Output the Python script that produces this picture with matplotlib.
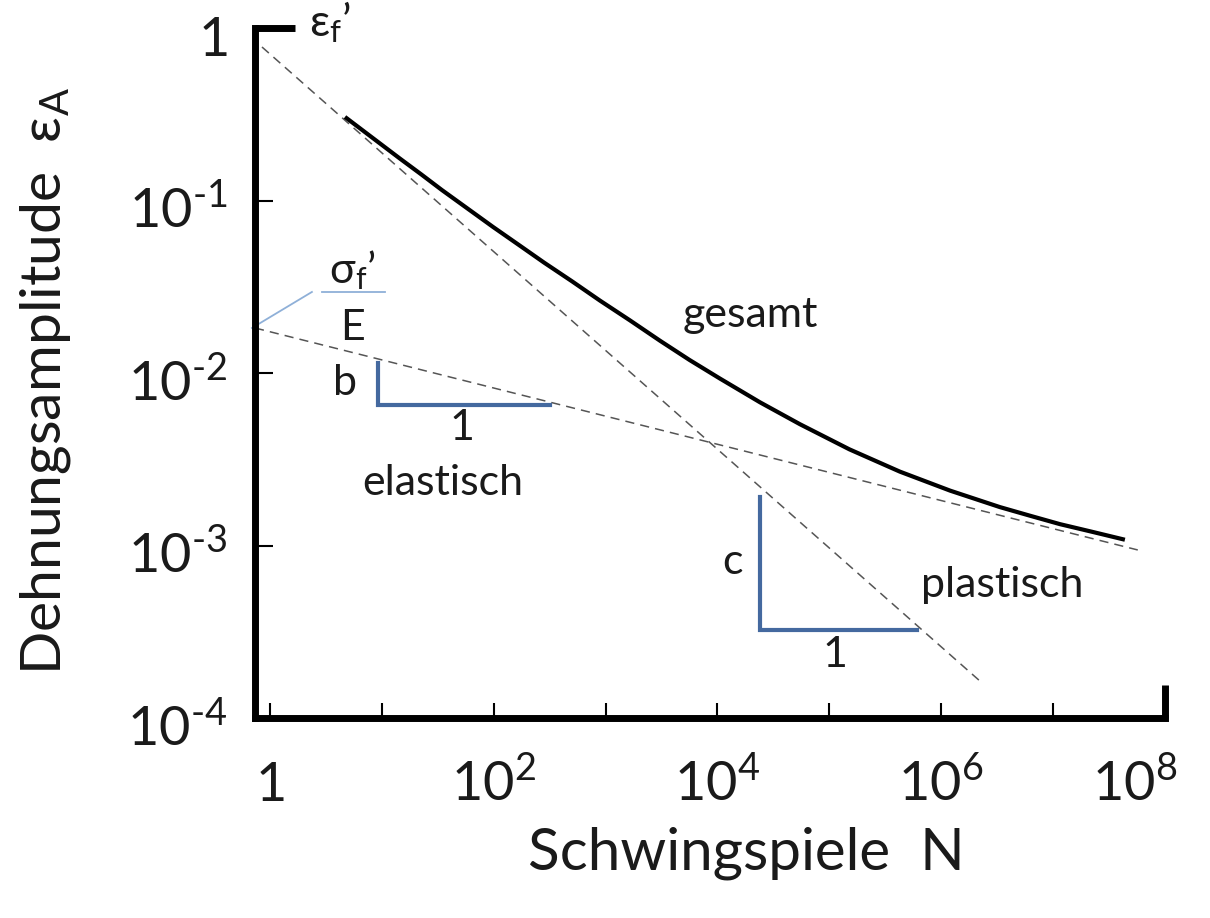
import matplotlib.pyplot as plt
import matplotlib.transforms as mtransforms
from matplotlib.ticker import NullLocator

# values (log-log diagram)
N_plastic = [0.848, 2.31e6]
eps_plastic = [0.776, 1.60e-4]

N_elastic = [0.734, 5.71e7]
eps_elastic = [0.01824, 9.42e-4]

N_total = [4.68, 8.24, 14.5, 22.4, 34.4, 58.2, 98.4, 166, 281, 501, 889, 1648, 3055,
           5623, 1.05e4, 2.40e4, 5.45e4, 1.51e5, 4.27e5, 1.20e6, 3.34e6, 6.17e6,
           1.15e7, 2.24e7, 4.38e7]
eps_total = [0.305, 0.231, 0.175, 0.142, 0.115, 0.0899, 0.0703, 0.0555, 0.0437, 0.0340,
             0.0263, 0.0202, 0.0154, 0.0119, 0.00929, 0.00676, 0.00505, 0.00361,
             0.00268, 0.00208, 0.00167, 0.00149, 0.00133, 0.00120, 0.00108]

# slope triangles
tri_b_N = [9.23, 9.23, 318]
tri_b_eps = [0.01143, 0.00652, 0.00652]
tri_c_N = [23900, 23900, 6.05e5]
tri_c_eps = [0.00191, 3.24e-4, 3.24e-4]

# sigma_f'/E pointer
ptr_N = [0.69, 2.37]
ptr_eps = [0.01824, 0.0295]
bar_N = [2.92, 10.7]
bar_eps = [0.0295, 0.0295]

x_ticks = [1, 1e1, 1e2, 1e3, 1e4, 1e5, 1e6, 1e7, 1e8]
x_labels = [r"$\mathregular{1}$", "", r"$\mathregular{10^2}$", "", r"$\mathregular{10^4}$", "",
            r"$\mathregular{10^6}$", "", r"$\mathregular{10^8}$"]
y_ticks = [1e-4, 1e-3, 1e-2, 1e-1, 1]
y_labels = [r"$\mathregular{10^{\text{-}4}}$", r"$\mathregular{10^{\text{-}3}}$",
            r"$\mathregular{10^{\text{-}2}}$", r"$\mathregular{10^{\text{-}1}}$",
            r"$\mathregular{1}$"]

plt.rcParams["font.family"] = ["Lato", "DejaVu Sans"]
plt.rcParams["mathtext.fontset"] = "custom"
plt.rcParams["mathtext.rm"] = "Lato"
plt.rcParams["mathtext.it"] = "Lato"
plt.rcParams["text.color"] = "#1a1a1a"

TXT = "#1a1a1a"
DASH = "#555555"
BLUE = "#44699f"
LBLUE = "#8fb0d8"

fig = plt.figure(figsize=(12.1, 9.18), dpi=100)
ax = fig.add_axes([255 / 1210, 200 / 918, 910 / 1210, 690 / 918])
ax.set_xscale("log")
ax.set_yscale("log")
ax.set_xlim(10 ** -0.134, 1e8)
ax.set_ylim(1e-4, 1)

ax.plot(N_plastic, eps_plastic, color=DASH, lw=1.1, dashes=(6, 4), clip_on=False)
ax.plot(N_elastic, eps_elastic, color=DASH, lw=1.1, dashes=(6, 4), clip_on=False)
ax.plot(N_total, eps_total, color="black", lw=3, solid_capstyle="butt",
        solid_joinstyle="round")

ax.plot(tri_b_N, tri_b_eps, color=BLUE, lw=3, solid_joinstyle="miter")
ax.plot(tri_c_N, tri_c_eps, color=BLUE, lw=3, solid_joinstyle="miter")
ax.plot(ptr_N, ptr_eps, color=LBLUE, lw=1.3, clip_on=False)
ax.plot(bar_N, bar_eps, color=LBLUE, lw=1.3)

for side in ["top", "right"]:
    ax.spines[side].set_visible(False)
for side in ["left", "bottom"]:
    ax.spines[side].set_linewidth(5)
    ax.spines[side].set_capstyle("projecting")

ax.set_xticks(x_ticks)
ax.set_xticklabels(x_labels)
ax.set_yticks(y_ticks)
ax.set_yticklabels(y_labels)
ax.xaxis.set_minor_locator(NullLocator())
ax.yaxis.set_minor_locator(NullLocator())
ax.tick_params(axis="x", direction="in", length=11, width=1.5, pad=60,
               labelsize=39, labelcolor=TXT)
ax.tick_params(axis="y", direction="in", length=13, width=1.5, pad=20,
               labelsize=39, labelcolor=TXT)

# thick end ticks at 1e8 and at 1
xt = ax.xaxis.get_major_ticks()[-1]
xt.tick1line.set_markersize(24)
xt.tick1line.set_markeredgewidth(5)
yt = ax.yaxis.get_major_ticks()[-1]
yt.tick1line.set_markersize(29)
yt.tick1line.set_markeredgewidth(5)

xlabs = ax.get_xticklabels()
for lab in xlabs:
    lab.set_va("baseline")
# the 10^8 label sits left of its tick in the original
left = mtransforms.ScaledTranslation(-0.30, 0, fig.dpi_scale_trans)
xlabs[-1].set_transform(xlabs[-1].get_transform() + left)

shift = mtransforms.ScaledTranslation(0, -0.28, fig.dpi_scale_trans)
for lab in ax.get_yticklabels():
    lab.set_va("baseline")
    lab.set_transform(lab.get_transform() + shift)

ax.set_xlabel("Schwingspiele  N", fontsize=42, color=TXT, va="top")
ax.xaxis.set_label_coords(0.54, -0.157)
ax.set_ylabel(r"Dehnungsamplitude  $\mathregular{ε_A}$", fontsize=41, color=TXT)
ax.yaxis.set_label_coords(-0.2, 0.489)


def label(px, py, s, size=31):
    fig.text(px / 1210, 1 - py / 918, s, fontsize=size, color=TXT,
             ha="center", va="center")


label(330, 22, r"$\mathregular{ε_f}$’", size=32)
label(352, 270, r"$\mathregular{σ_f}$’")
label(352, 328, "E")
label(345, 383, "b")
label(462, 428, "1")
label(443, 483, "elastisch")
label(750, 315, "gesamt")
label(733, 562, "c")
label(835, 655, "1")
label(1002, 585, "plastisch")

fig.savefig("out.png", dpi=100)
